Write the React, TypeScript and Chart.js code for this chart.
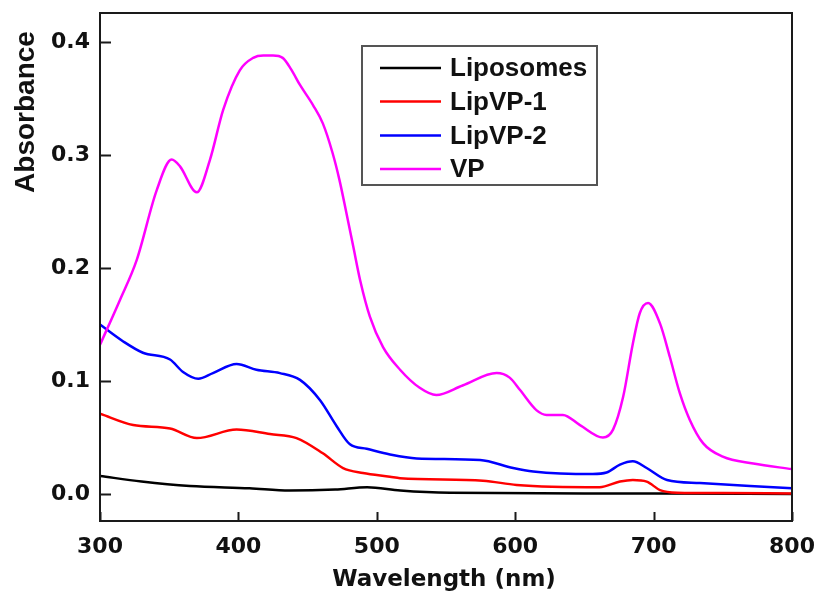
import { useEffect, useRef } from "react";
import { Chart, registerables } from "chart.js";
Chart.register(...registerables);

// ---- data ----
const seriesNames = ["Liposomes", "LipVP-1", "LipVP-2", "VP"];
const seriesColors = ["#000000", "#ff0000", "#0000ff", "#ff00ff"];

const liposomesWl = [300, 330, 365, 408, 437, 470, 493, 517, 553, 650, 700, 800];
const liposomesAbs = [0.016, 0.011, 0.007, 0.005, 0.003, 0.004, 0.006, 0.003, 0.001, 0.0005, 0.0005, 0.0];

const lipVP1Wl = [300, 324, 350.6, 370, 398.7, 422.8, 442, 461, 475.6, 490, 509.5, 516.8, 576.7, 601, 661, 675.7, 685, 695, 704.6, 717, 750, 800];
const lipVP1Abs = [0.071, 0.061, 0.058, 0.0495, 0.057, 0.053, 0.0495, 0.036, 0.023, 0.0186, 0.0153, 0.014, 0.0118, 0.008, 0.006, 0.011, 0.0124, 0.011, 0.0035, 0.0012, 0.0008, 0.0005];

const lipVP2Wl = [300, 316.8, 331, 350.6, 360, 371, 381.6, 398.7, 413, 430, 444.5, 459, 471, 480.6, 492.7, 509.5, 528.8, 574.6, 598.5, 613, 656, 666, 675.7, 685, 695, 709.7, 733.5, 769.7, 800];
const lipVP2Abs = [0.15, 0.135, 0.125, 0.119, 0.108, 0.102, 0.107, 0.115, 0.11, 0.107, 0.101, 0.083, 0.06, 0.044, 0.04, 0.035, 0.0315, 0.03, 0.023, 0.02, 0.0177, 0.019, 0.026, 0.029, 0.023, 0.0124, 0.0097, 0.0071, 0.005];

const vpWl = [300, 314.5, 326.5, 341, 351.8, 357.8, 369.9, 379.5, 389, 401, 410.7, 418, 425, 432, 438, 444.5, 454, 461, 468, 473, 478, 483, 488, 495, 504.5, 516.8, 531, 543, 562, 586.6, 596, 603.5, 615.5, 622.7, 634.5, 646.8, 663.4, 670.7, 678, 685, 690, 696, 704.6, 711.8, 719, 726, 735.7, 750, 772, 800];
const vpAbs = [0.132, 0.172, 0.207, 0.269, 0.296, 0.29, 0.267, 0.296, 0.34, 0.375, 0.386, 0.388, 0.388, 0.386, 0.376, 0.362, 0.344, 0.328, 0.302, 0.278, 0.249, 0.219, 0.189, 0.157, 0.13, 0.11, 0.094, 0.0876, 0.096, 0.107, 0.103, 0.092, 0.074, 0.07, 0.07, 0.061, 0.05, 0.057, 0.086, 0.133, 0.16, 0.169, 0.151, 0.121, 0.089, 0.066, 0.045, 0.033, 0.027, 0.022];

const xTicks = [300, 400, 500, 600, 700, 800];
const yTicks = [0.0, 0.1, 0.2, 0.3, 0.4];
const xTitle = "Wavelength (nm)";
const yTitle = "Absorbance";

const wlSets = [liposomesWl, lipVP1Wl, lipVP2Wl, vpWl];
const absSets = [liposomesAbs, lipVP1Abs, lipVP2Abs, vpAbs];

const tickFont = { family: "'DejaVu Sans', sans-serif", weight: "bold" as const, size: 22 };

const decorPlugin = {
  id: "decor",
  afterDraw(chart: any) {
    const { ctx, chartArea: a, scales } = chart;
    ctx.save();
    // frame
    ctx.strokeStyle = "#1a1a1a";
    ctx.lineWidth = 2;
    ctx.strokeRect(a.left, a.top, a.right - a.left, a.bottom - a.top);
    // inward tick marks
    ctx.beginPath();
    for (const v of yTicks) {
      const y = Math.round(scales.y.getPixelForValue(v)) + 0.5;
      ctx.moveTo(a.left, y);
      ctx.lineTo(a.left + 11, y);
    }
    for (const v of xTicks) {
      const x = Math.round(scales.x.getPixelForValue(v)) + 0.5;
      ctx.moveTo(x, a.bottom);
      ctx.lineTo(x, a.bottom - 9);
    }
    ctx.stroke();

    // axis titles
    ctx.fillStyle = "#111";
    ctx.textAlign = "center";
    ctx.textBaseline = "middle";
    ctx.font = "bold 23px 'DejaVu Sans', sans-serif";
    ctx.fillText(xTitle, (a.left + a.right) / 2 - 2, 580);
    ctx.save();
    ctx.translate(26, 112);
    ctx.rotate(-Math.PI / 2);
    ctx.font = "bold 28px 'Liberation Sans', Arial, sans-serif";
    ctx.fillText(yTitle, 0, 0);
    ctx.restore();

    // legend
    const bx = 362, by = 46, bw = 235, bh = 139;
    ctx.fillStyle = "#ffffff";
    ctx.fillRect(bx, by, bw, bh);
    ctx.strokeStyle = "#555";
    ctx.lineWidth = 2;
    ctx.strokeRect(bx, by, bw, bh);
    const rowY = [68, 101.5, 135.5, 169];
    ctx.font = "bold 26px 'Liberation Sans', Arial, sans-serif";
    ctx.textAlign = "left";
    ctx.textBaseline = "middle";
    chart.data.datasets.forEach((ds: any, i: number) => {
      const y = rowY[i];
      ctx.strokeStyle = ds.borderColor;
      ctx.lineWidth = 2.5;
      ctx.beginPath();
      ctx.moveTo(380, y);
      ctx.lineTo(441, y);
      ctx.stroke();
      ctx.fillStyle = "#111";
      ctx.fillText(ds.label, 450, y + 1);
    });
    ctx.restore();
  },
};

export default function App() {
  const ref = useRef<HTMLCanvasElement>(null);
  useEffect(() => {
    if (!ref.current) return;
    const datasets = seriesNames.map((name, i) => ({
      label: name,
      data: wlSets[i].map((w, j) => ({ x: w, y: absSets[i][j] })),
      borderColor: seriesColors[i],
      backgroundColor: seriesColors[i],
      borderWidth: 2.5,
      pointRadius: 0,
      fill: false,
      cubicInterpolationMode: "monotone" as const,
      order: 3 - i,
    }));
    const chart = new Chart(ref.current, {
      type: "line",
      data: { datasets },
      plugins: [decorPlugin],
      options: {
        animation: false,
        responsive: false,
        devicePixelRatio: 1,
        layout: { padding: { top: 13, right: 25, left: 0, bottom: 0 } },
        plugins: { legend: { display: false }, tooltip: { enabled: false } },
        scales: {
          x: {
            type: "linear",
            min: 300,
            max: 800,
            afterBuildTicks: (s: any) => { s.ticks = xTicks.map((v) => ({ value: v })); },
            afterFit: (s: any) => { s.height = 78; s.paddingLeft = 0; s.paddingRight = 0; },
            grid: { display: false, drawTicks: false },
            border: { display: false },
            ticks: { font: tickFont, color: "#111", padding: 13, maxRotation: 0, callback: (v: any) => String(v) },
          },
          y: {
            type: "linear",
            min: -0.0239,
            max: 0.4257,
            afterBuildTicks: (s: any) => { s.ticks = yTicks.map((v) => ({ value: v })); },
            afterFit: (s: any) => { s.width = 100; s.paddingTop = 0; s.paddingBottom = 0; },
            grid: { display: false, drawTicks: false },
            border: { display: false },
            ticks: { font: tickFont, color: "#111", padding: 10, callback: (v: any) => Number(v).toFixed(1) },
          },
        },
      },
    });
    return () => chart.destroy();
  }, []);
  return (
    <div style={{ position: "absolute", left: 0, top: 0, width: 817, height: 599, background: "#fff" }}>
      <canvas ref={ref} width={817} height={599} />
    </div>
  );
}
